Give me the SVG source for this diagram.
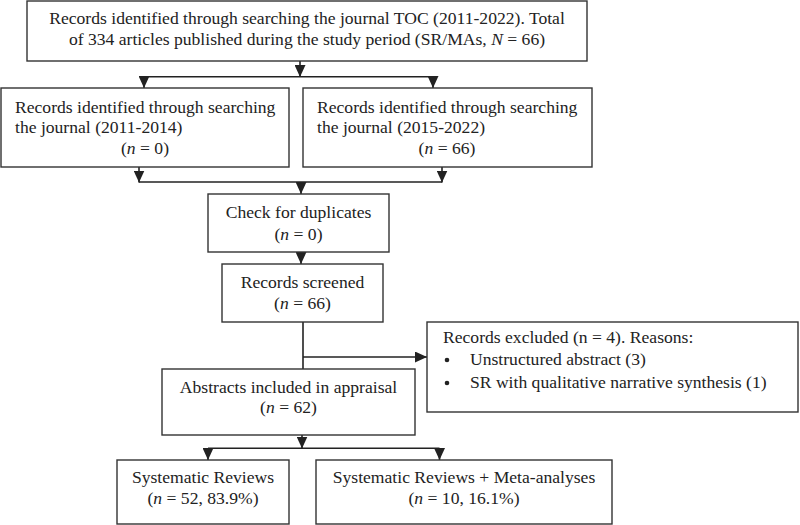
<svg xmlns="http://www.w3.org/2000/svg" width="800" height="525" viewBox="0 0 800 525">
<style>
.box{fill:#fff;stroke:#333;stroke-width:1.4}
text{font-family:"Liberation Serif","Times New Roman",serif;font-size:17.6px;fill:#222}
.c{text-anchor:middle}
.ln{fill:none;stroke:#222;stroke-width:1.6}
</style>
<defs>
<marker id="ah" viewBox="0 0 12 11" refX="12" refY="5.5" markerWidth="12" markerHeight="11" markerUnits="userSpaceOnUse" orient="auto">
<path d="M0,0 L12,5.5 L0,11 Z" fill="#222"/>
</marker>
</defs>
<rect width="800" height="525" fill="#fff"/>
<g id="connectors">
<path class="ln" d="M300,61 V77" marker-end="url(#ah)"/>
<path class="ln" d="M144,76.7 H433"/>
<path class="ln" d="M144,76 V88" marker-end="url(#ah)"/>
<path class="ln" d="M433,76 V88" marker-end="url(#ah)"/>
<path class="ln" d="M139,167 V182.5" marker-end="url(#ah)"/>
<path class="ln" d="M442,167 V182.5" marker-end="url(#ah)"/>
<path class="ln" d="M139,182 H442"/>
<path class="ln" d="M301,182 V194" marker-end="url(#ah)"/>
<path class="ln" d="M301,252 V264" marker-end="url(#ah)"/>
<path class="ln" d="M303,322 V369"/>
<path class="ln" d="M303,357 H427" marker-end="url(#ah)"/>
<path class="ln" d="M302,435 V448.5" marker-end="url(#ah)"/>
<path class="ln" d="M208,448.3 H439.5"/>
<path class="ln" d="M208,448 V460" marker-end="url(#ah)"/>
<path class="ln" d="M439.5,448 V460" marker-end="url(#ah)"/>
</g>
<g id="top">
<rect class="box" x="27" y="1" width="560" height="60"/>
<text class="c" x="307" y="24">Records identified through searching the journal TOC (2011-2022). Total</text>
<text class="c" x="307" y="45">of 334 articles published during the study period (SR/MAs, <tspan font-style="italic">N</tspan> = 66)</text>
</g>
<g id="left">
<rect class="box" x="1" y="88" width="288" height="79"/>
<text x="15" y="113">Records identified through searching</text>
<text x="15" y="133">the journal (2011-2014)</text>
<text class="c" x="145" y="154">(<tspan font-style="italic">n</tspan> = 0)</text>
</g>
<g id="right">
<rect class="box" x="303" y="88" width="289" height="79"/>
<text x="317" y="113">Records identified through searching</text>
<text x="317" y="133">the journal (2015-2022)</text>
<text class="c" x="447" y="154">(<tspan font-style="italic">n</tspan> = 66)</text>
</g>
<g id="dup">
<rect class="box" x="208" y="194" width="181" height="58"/>
<text class="c" x="298.5" y="218">Check for duplicates</text>
<text class="c" x="298.5" y="240">(<tspan font-style="italic">n</tspan> = 0)</text>
</g>
<g id="screened">
<rect class="box" x="222" y="264" width="161" height="58"/>
<text class="c" x="302.5" y="288">Records screened</text>
<text class="c" x="302.5" y="309">(<tspan font-style="italic">n</tspan> = 66)</text>
</g>
<g id="excluded">
<rect class="box" x="427" y="322" width="371" height="90"/>
<text x="443" y="343">Records excluded (n = 4). Reasons:</text>
<circle cx="447" cy="360" r="2.3" fill="#222"/>
<text x="470" y="365">Unstructured abstract (3)</text>
<circle cx="447" cy="383" r="2.3" fill="#222"/>
<text x="470" y="388">SR with qualitative narrative synthesis (1)</text>
</g>
<g id="abstracts">
<rect class="box" x="162" y="369" width="253" height="66"/>
<text class="c" x="288.5" y="393">Abstracts included in appraisal</text>
<text class="c" x="288.5" y="413">(<tspan font-style="italic">n</tspan> = 62)</text>
</g>
<g id="sr">
<rect class="box" x="117" y="460" width="172" height="64"/>
<text class="c" x="203" y="483">Systematic Reviews</text>
<text class="c" x="203" y="504">(<tspan font-style="italic">n</tspan> = 52, 83.9%)</text>
</g>
<g id="srma">
<rect class="box" x="316" y="460" width="296" height="64"/>
<text class="c" x="464" y="483">Systematic Reviews + Meta-analyses</text>
<text class="c" x="464" y="504">(<tspan font-style="italic">n</tspan> = 10, 16.1%)</text>
</g>
</svg>
